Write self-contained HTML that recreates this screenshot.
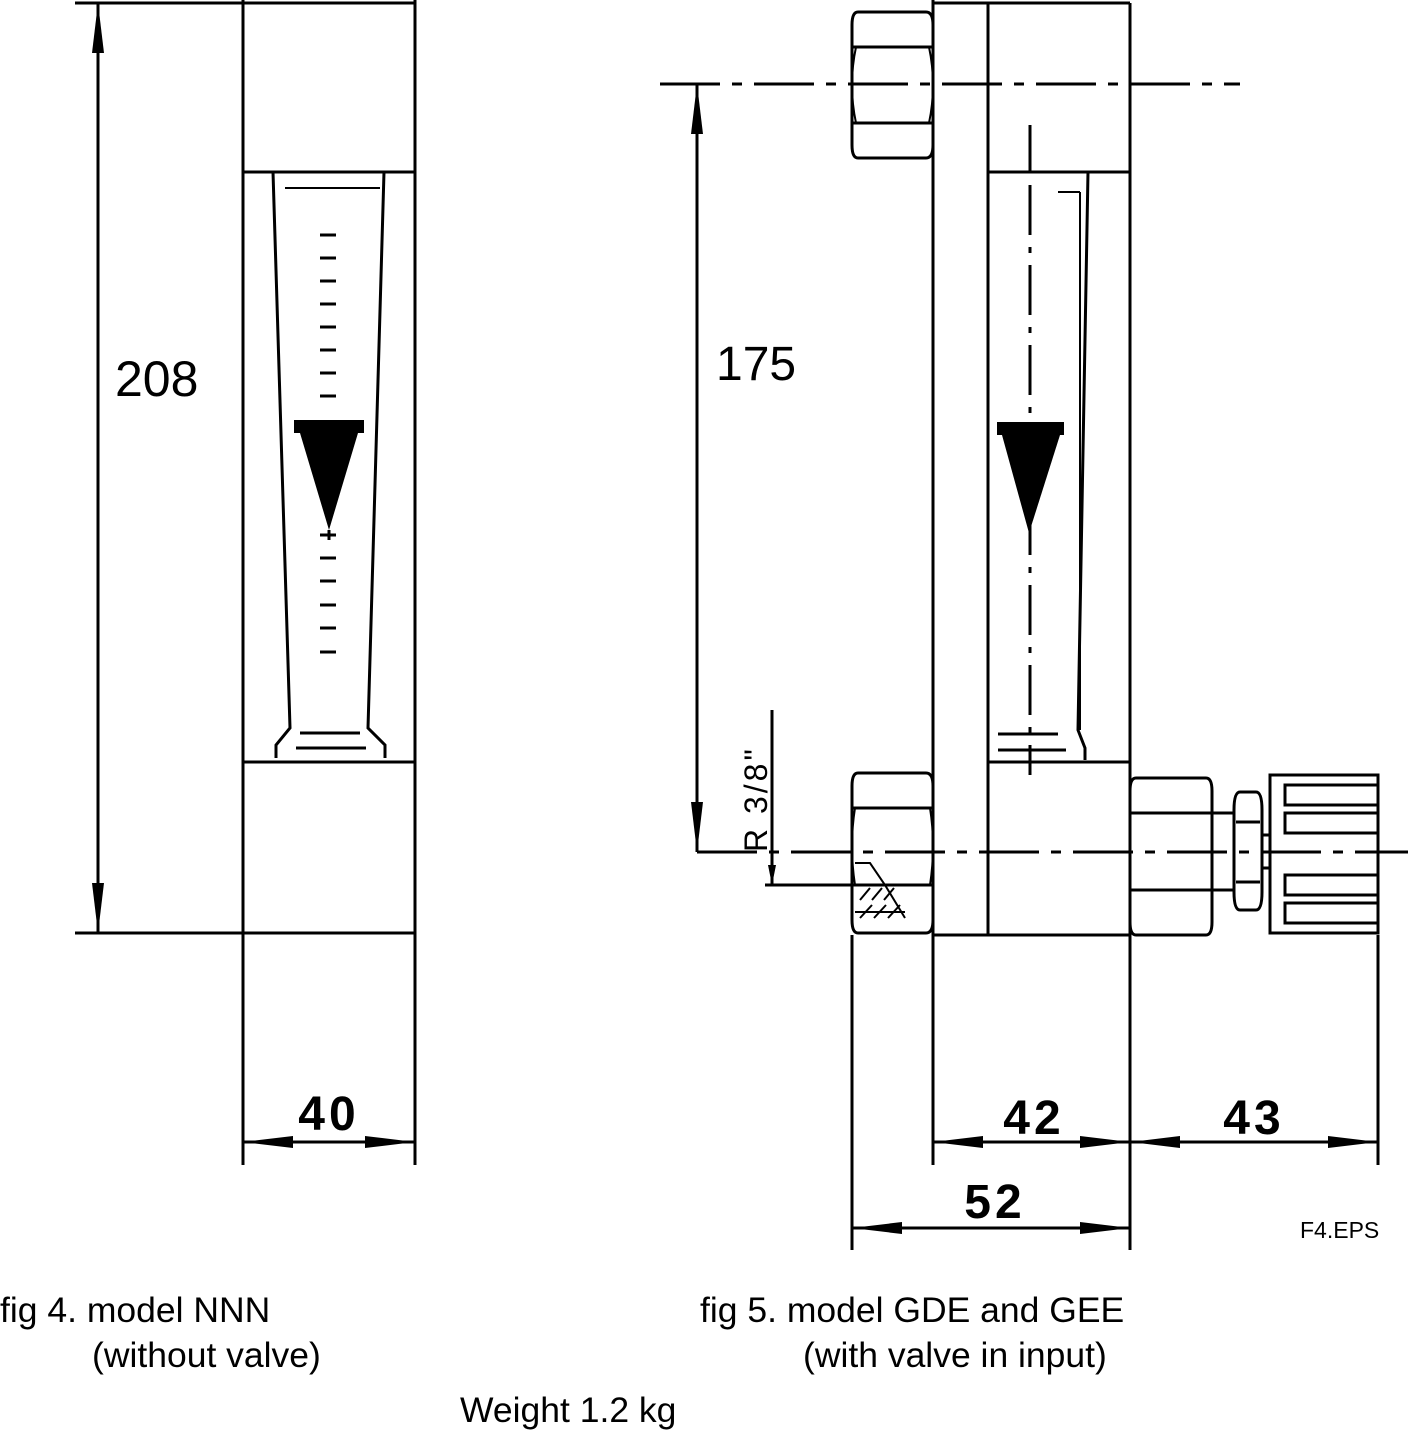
<!DOCTYPE html>
<html><head><meta charset="utf-8"><style>
html,body{margin:0;padding:0;background:#fff;}
svg{display:block;}
text{font-family:"Liberation Sans",sans-serif;fill:#000;}
</style></head><body>
<svg width="1408" height="1430" viewBox="0 0 1408 1430" xmlns="http://www.w3.org/2000/svg">
<defs>
<marker id="a" viewBox="0 0 20 10" refX="20" refY="5" markerWidth="20" markerHeight="10" markerUnits="userSpaceOnUse" orient="auto-start-reverse"><path d="M0,1 L20,5 L0,9z" fill="#000"/></marker>
<marker id="b" viewBox="0 0 50 14" refX="50" refY="7" markerWidth="50" markerHeight="14" markerUnits="userSpaceOnUse" orient="auto-start-reverse"><path d="M0,1 L50,7 L0,13z" fill="#000"/></marker>
</defs>
<g stroke="#000" stroke-width="3" fill="none">
<line x1="243" y1="0" x2="243" y2="1165"/>
<line x1="415" y1="0" x2="415" y2="1165"/>
<line x1="243" y1="3" x2="415" y2="3"/>
<line x1="243" y1="172" x2="415" y2="172"/>
<line x1="243" y1="762" x2="415" y2="762"/>
<line x1="75" y1="933" x2="415" y2="933"/>
<line x1="75" y1="3" x2="243" y2="3"/>
<path d="M273,172 L290,728 L276,745 L276,758 M384,172 L368,728 L385,745 L385,758"/>
<path d="M285,188 L380,188" stroke-width="2"/>
<line x1="300" y1="733" x2="360" y2="733"/>
<line x1="296" y1="748" x2="366" y2="748"/>
<g stroke-width="3">
<line x1="320" y1="235" x2="336" y2="235"/><line x1="320" y1="258" x2="336" y2="258"/>
<line x1="320" y1="281" x2="336" y2="281"/><line x1="320" y1="304" x2="336" y2="304"/>
<line x1="320" y1="327" x2="336" y2="327"/><line x1="320" y1="350" x2="336" y2="350"/>
<line x1="320" y1="373" x2="336" y2="373"/><line x1="320" y1="396" x2="336" y2="396"/>
<line x1="320" y1="535" x2="336" y2="535"/><line x1="320" y1="558" x2="336" y2="558"/>
<line x1="320" y1="581" x2="336" y2="581"/><line x1="320" y1="605" x2="336" y2="605"/>
<line x1="320" y1="628" x2="336" y2="628"/><line x1="320" y1="652" x2="336" y2="652"/>
</g>
<line x1="98" y1="3" x2="98" y2="933" marker-start="url(#b)" marker-end="url(#b)"/>
<line x1="243" y1="1142" x2="415" y2="1142" marker-start="url(#b)" marker-end="url(#b)"/>

<line x1="933" y1="0" x2="933" y2="1165"/>
<line x1="988" y1="3" x2="988" y2="935"/>
<line x1="1130" y1="3" x2="1130" y2="1250"/>
<line x1="933" y1="3" x2="1130" y2="3"/>
<line x1="988" y1="172" x2="1130" y2="172"/>
<line x1="988" y1="762" x2="1130" y2="762"/>
<line x1="933" y1="935" x2="1130" y2="935"/>
<line x1="852" y1="935" x2="852" y2="1250"/>
<line x1="1378" y1="935" x2="1378" y2="1165"/>
<path d="M858,12 L926,12 Q933,12 933,25 L933,145 Q933,158 926,158 L858,158 Q852,158 852,145 L852,25 Q852,12 858,12z"/>
<path d="M853,47 L932,47 M853,123 L932,123"/>
<path d="M856,47 Q848,85 856,123 M929,47 Q937,85 929,123" stroke-width="2"/>
<path d="M1088,172 L1078,730 L1085,748 L1085,760"/>
<path d="M1080,192 L1080,730" stroke-width="2"/>
<path d="M1058,192 L1080,192" stroke-width="2"/>
<line x1="998" y1="734" x2="1058" y2="734"/>
<line x1="998" y1="750" x2="1066" y2="750"/>
<line x1="660" y1="84" x2="1240" y2="84" stroke-dasharray="60,12,10,12"/>
<line x1="697" y1="852" x2="1408" y2="852" stroke-dasharray="60,12,10,12"/>
<line x1="1030" y1="125" x2="1030" y2="172"/>
<line x1="1030" y1="185" x2="1030" y2="775" stroke-dasharray="50,12,6,12"/>
<line x1="697" y1="84" x2="697" y2="852" marker-start="url(#b)" marker-end="url(#b)"/>
<path d="M858,773 L926,773 Q933,773 933,786 L933,920 Q933,933 926,933 L858,933 Q852,933 852,920 L852,786 Q852,773 858,773z"/>
<path d="M853,808 L932,808 M853,885 L932,885"/>
<path d="M855,808 Q849,846 855,885 M930,808 Q936,846 930,885" stroke-width="2"/>
<path d="M855,912 L905,912 M855,863 L870,863 L885,885 L905,918" stroke-width="2"/>
<path d="M860,900 L870,888 M872,900 L882,888 M884,900 L894,888 M860,918 L872,905 M874,918 L886,905 M888,918 L900,905" stroke-width="2"/>
<line x1="772" y1="710" x2="772" y2="885" marker-end="url(#a)"/>
<line x1="765" y1="885" x2="910" y2="885"/>
<path d="M1136,778 L1206,778 Q1212,778 1212,791 L1212,922 Q1212,935 1206,935 L1136,935 Q1130,935 1130,922 L1130,791 Q1130,778 1136,778z"/>
<path d="M1131,813 L1211,813 M1131,890 L1211,890"/>
<path d="M1212,813 L1234,813 M1212,890 L1234,890"/>
<path d="M1240,792 L1256,792 Q1262,792 1262,810 L1262,892 Q1262,910 1256,910 L1240,910 Q1234,910 1234,892 L1234,810 Q1234,792 1240,792z"/>
<path d="M1236,822 L1260,822 M1236,882 L1260,882"/>
<path d="M1262,835 L1270,835 M1262,868 L1270,868"/>
<rect x="1270" y="775" width="108" height="158"/>
<rect x="1285" y="785" width="93" height="20"/>
<rect x="1285" y="813" width="93" height="20"/>
<rect x="1285" y="875" width="93" height="20"/>
<rect x="1285" y="903" width="93" height="20"/>
<line x1="933" y1="1142" x2="1130" y2="1142" marker-start="url(#b)" marker-end="url(#b)"/>
<line x1="1130" y1="1142" x2="1378" y2="1142" marker-start="url(#b)" marker-end="url(#b)"/>
<line x1="852" y1="1228" x2="1130" y2="1228" marker-start="url(#b)" marker-end="url(#b)"/>
</g>
<rect x="294" y="420" width="70" height="13" fill="#000"/>
<path d="M300,433 L358,433 L329,530z" fill="#000"/>
<line x1="329" y1="530" x2="329" y2="540" stroke="#000" stroke-width="3"/>
<rect x="997" y="422" width="67" height="13" fill="#000"/>
<path d="M1002,435 L1060,435 L1029,533z" fill="#000"/>
<text x="115" y="396" font-size="50">208</text>
<text x="716" y="380" font-size="48">175</text>
<text x="329" y="1130" font-size="48" text-anchor="middle" font-weight="bold" letter-spacing="4">40</text>
<text x="1034" y="1134" font-size="48" text-anchor="middle" font-weight="bold" letter-spacing="4">42</text>
<text x="1254" y="1134" font-size="48" text-anchor="middle" font-weight="bold" letter-spacing="4">43</text>
<text x="995" y="1218" font-size="48" text-anchor="middle" font-weight="bold" letter-spacing="4">52</text>
<text transform="translate(767,852) rotate(-90)" font-size="32" letter-spacing="3">R 3/8"</text>
<text x="1300" y="1238" font-size="23">F4.EPS</text>
<text x="0" y="1322" font-size="35.5">fig 4. model NNN</text>
<text x="92" y="1367" font-size="35.5">(without valve)</text>
<text x="700" y="1322" font-size="35.5">fig 5. model GDE and GEE</text>
<text x="803" y="1367" font-size="35.5">(with valve in input)</text>
<text x="460" y="1422" font-size="35.5">Weight 1.2 kg</text>
</svg>
</body></html>
